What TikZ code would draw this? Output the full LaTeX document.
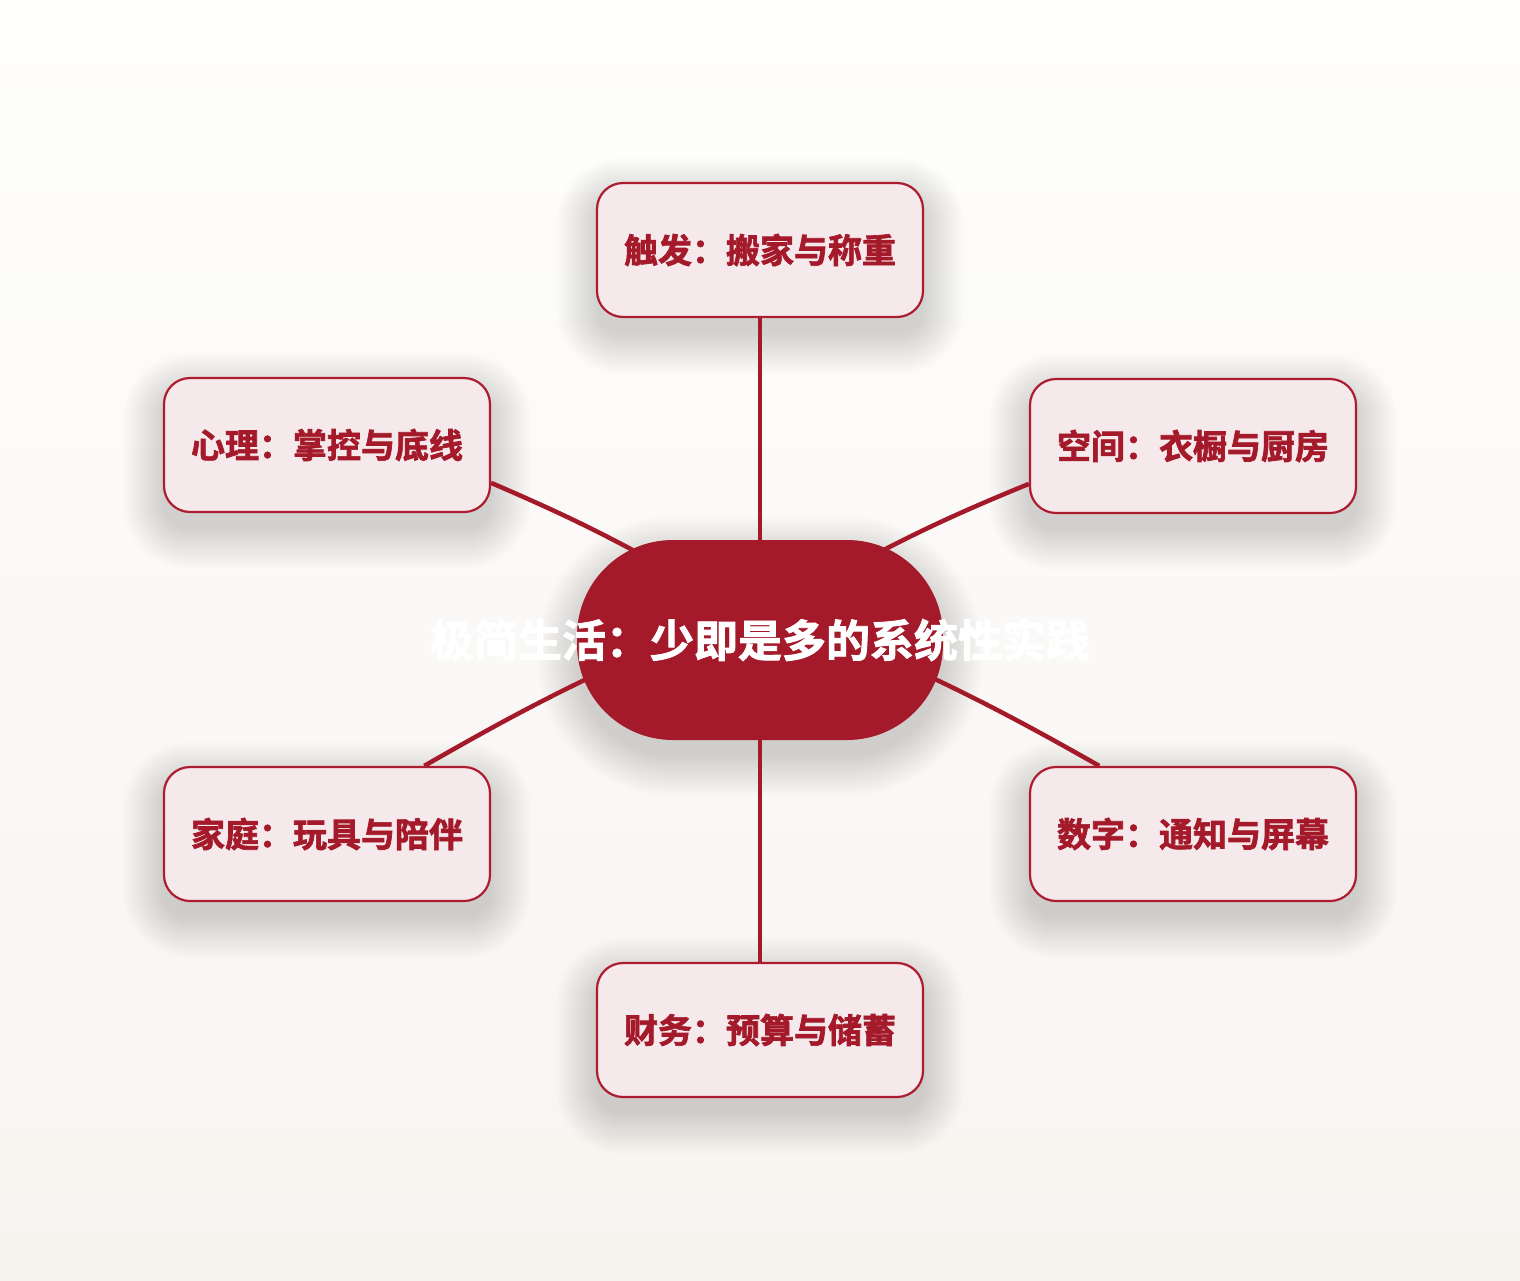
\documentclass[tikz,border=0pt]{standalone}
\usepackage{fontspec}
\newfontfamily\cjk{Noto Sans CJK SC}[BoldFont={Noto Sans CJK SC Bold},BoldFeatures={FakeBold=2}]
\usetikzlibrary{calc}
\definecolor{mred}{HTML}{A41A2B}
\definecolor{boxline}{HTML}{AE1C2F}
\definecolor{boxfill}{HTML}{F5E9EB}
\definecolor{bgtop}{HTML}{FEFEFD}
\definecolor{bgbot}{HTML}{F7F4F0}
\pgfdeclarelayer{bglayer}
\pgfdeclarelayer{shadowlayer}
\pgfdeclarelayer{linklayer}
\pgfsetlayers{bglayer,shadowlayer,linklayer,main}
\newcommand\mkshadow[3]{%
  \foreach \s in {0,2,...,40}{%
    \fill[black,opacity=0.0075,rounded corners={(#2+\s)*1pt}]
      ($(#1.north west)+(-\s,#3-\s)$) rectangle ($(#1.south east)+(\s,#3+\s)$);}}
\begin{document}
\begin{tikzpicture}[x=1pt,y=-1pt,
  leaf/.style={draw=boxline, line width=2.2pt, fill=boxfill, rounded corners=26pt,
    minimum width=326pt, minimum height=134pt, inner sep=0pt,
    font=\cjk\bfseries\fontsize{34}{40}\selectfont, text=mred},
  hub/.style={fill=mred, rounded corners=96pt, minimum width=366pt, minimum height=200pt,
    inner sep=0pt, font=\cjk\bfseries\fontsize{44}{52}\selectfont, text=white},
  link/.style={draw=mred, line width=4.5pt}]
\useasboundingbox (0,0) rectangle (1520,1280);
\begin{pgfonlayer}{bglayer}
\shade[top color=bgtop, bottom color=bgbot] (0,0) rectangle (1520,1280);
\end{pgfonlayer}

\node[hub] (hub) at (760,640) {\makebox[0pt]{极简生活：少即是多的系统性实践}};
\node[leaf] (top) at (760,250) {触发：搬家与称重};
\node[leaf] (ul) at (327,445) {心理：掌控与底线};
\node[leaf] (ur) at (1193,446) {空间：衣橱与厨房};
\node[leaf] (ll) at (327,834) {家庭：玩具与陪伴};
\node[leaf] (lr) at (1193,834) {数字：通知与屏幕};
\node[leaf] (bot) at (760,1030) {财务：预算与储蓄};

\begin{pgfonlayer}{shadowlayer}
\mkshadow{hub}{96}{16}
\mkshadow{top}{26}{16}
\mkshadow{ul}{26}{16}
\mkshadow{ur}{26}{16}
\mkshadow{ll}{26}{16}
\mkshadow{lr}{26}{16}
\mkshadow{bot}{26}{16}
\end{pgfonlayer}

\begin{pgfonlayer}{linklayer}
\draw[link] (top.south) -- (hub.north);
\draw[link] (ul.-13.5) to[bend left=3] ($(hub.center)+(-80,-64)$);
\draw[link] (ur.193.8) to[bend right=3] ($(hub.center)+(80,-67)$);
\draw[link] (ll.35.8) to[bend left=3] ($(hub.center)+(-80,-4)$);
\draw[link] (lr.144.2) to[bend right=3] ($(hub.center)+(80,-4)$);
\draw[link] (hub.south) -- (bot.north);
\end{pgfonlayer}
\end{tikzpicture}
\end{document}
